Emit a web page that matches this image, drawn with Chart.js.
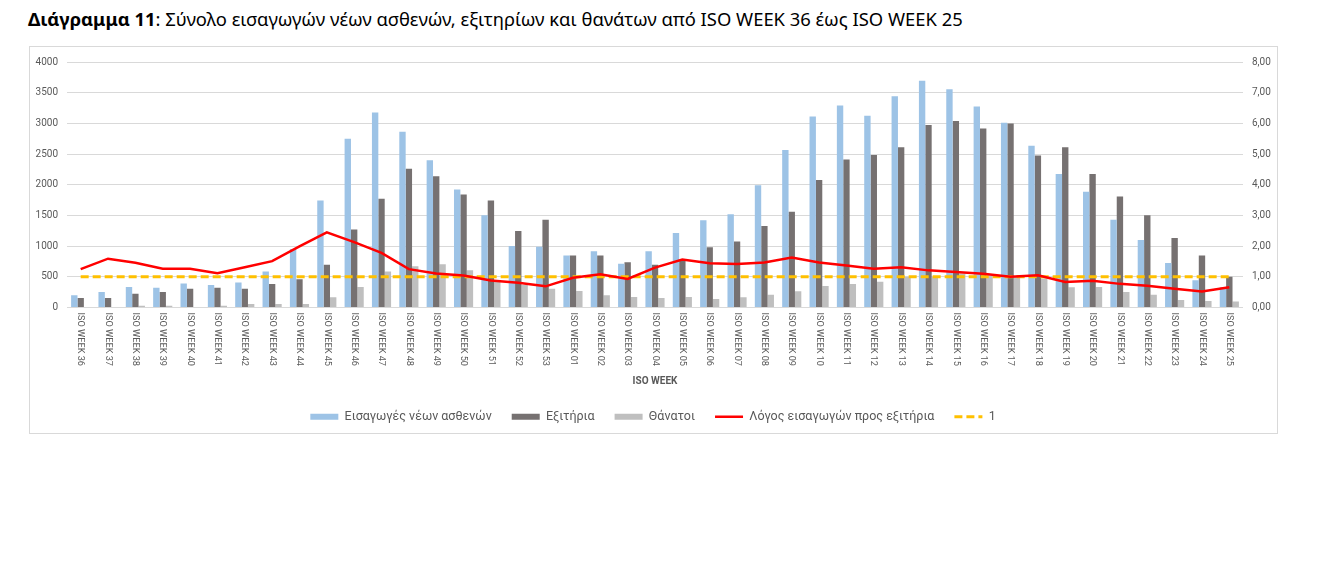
<!DOCTYPE html>
<html>
<head>
<meta charset="utf-8">
<script src="https://cdn.jsdelivr.net/npm/chart.js@4.4.1/dist/chart.umd.min.js"></script>
<style>
  html, body { margin: 0; padding: 0; background: #ffffff; }
  body { width: 1322px; height: 566px; position: relative; overflow: hidden; }
  #title { position: absolute; left: 28px; top: 9px; font-family: "Noto Sans", sans-serif; font-size: 18.4px; line-height: 20px; color: #000; white-space: nowrap; }
  #frame { position: absolute; left: 29px; top: 46px; width: 1249px; height: 388px; border: 1px solid #D9D9D9; box-sizing: border-box; }
  #c { position: absolute; left: 30px; top: 47px; }
</style>
</head>
<body>
<div id="title"><b>Διάγραμμα 11</b>: Σύνολο εισαγωγών νέων ασθενών, εξιτηρίων και θανάτων από ISO WEEK 36 έως ISO WEEK 25</div>
<div id="frame"></div>
<canvas id="c" width="1246" height="400"></canvas>
<script>
const categories = [
  'ISO WEEK 36','ISO WEEK 37','ISO WEEK 38','ISO WEEK 39','ISO WEEK 40','ISO WEEK 41','ISO WEEK 42','ISO WEEK 43','ISO WEEK 44','ISO WEEK 45',
  'ISO WEEK 46','ISO WEEK 47','ISO WEEK 48','ISO WEEK 49','ISO WEEK 50','ISO WEEK 51','ISO WEEK 52','ISO WEEK 53',
  'ISO WEEK 01','ISO WEEK 02','ISO WEEK 03','ISO WEEK 04','ISO WEEK 05','ISO WEEK 06','ISO WEEK 07','ISO WEEK 08','ISO WEEK 09','ISO WEEK 10',
  'ISO WEEK 11','ISO WEEK 12','ISO WEEK 13','ISO WEEK 14','ISO WEEK 15','ISO WEEK 16','ISO WEEK 17','ISO WEEK 18','ISO WEEK 19','ISO WEEK 20',
  'ISO WEEK 21','ISO WEEK 22','ISO WEEK 23','ISO WEEK 24','ISO WEEK 25'
];
const admissions = [
  199, 252, 333, 322, 392, 365, 408, 585, 955, 1745,
  2749, 3178, 2862, 2400, 1922, 1503, 1004, 988,
  848, 918, 714, 918, 1213, 1423, 1519, 1992, 2566, 3114,
  3291, 3125, 3442, 3694, 3554, 3275, 3012, 2636, 2174, 1884,
  1428, 1100, 725, 446, 330
];
const discharges = [
  156, 156, 225, 252, 306, 322, 306, 381, 462, 698,
  1272, 1772, 2260, 2137, 1842, 1745, 1246, 1428,
  848, 848, 736, 698, 760, 983, 1074, 1326, 1562, 2078,
  2411, 2486, 2609, 2974, 3039, 2915, 2996, 2475, 2609, 2174,
  1809, 1503, 1133, 848, 500
];
const deaths = [
  10, 10, 27, 27, 10, 27, 59, 59, 59, 166,
  333, 585, 671, 703, 605, 430, 365, 306,
  269, 199, 170, 156, 170, 140, 166, 209, 263, 349,
  381, 419, 500, 500, 553, 520, 500, 474, 330, 333,
  252, 209, 123, 107, 97
];
const ratio = [
  1.25, 1.59, 1.46, 1.26, 1.26, 1.12, 1.31, 1.51, 1.99, 2.45,
  2.13, 1.78, 1.25, 1.11, 1.04, 0.88, 0.81, 0.69,
  0.97, 1.08, 0.93, 1.30, 1.56, 1.44, 1.42, 1.47, 1.63, 1.47,
  1.37, 1.26, 1.31, 1.21, 1.16, 1.10, 1.00, 1.05, 0.83, 0.87,
  0.77, 0.71, 0.61, 0.52, 0.66
];
const referenceOne = [
  1, 1, 1, 1, 1, 1, 1, 1, 1, 1,
  1, 1, 1, 1, 1, 1, 1, 1,
  1, 1, 1, 1, 1, 1, 1, 1, 1, 1,
  1, 1, 1, 1, 1, 1, 1, 1, 1, 1,
  1, 1, 1, 1, 1
];
const seriesNames = ['Εισαγωγές νέων ασθενών', 'Εξιτήρια', 'Θάνατοι', 'Λόγος εισαγωγών προς εξιτήρια', '1'];
const leftTicks = [0, 500, 1000, 1500, 2000, 2500, 3000, 3500, 4000];
const rightTicks = [0, 1, 2, 3, 4, 5, 6, 7, 8];

const FONT = 'Roboto';
const TXT = '#595959';

const xLabelsPlugin = {
  id: 'xLabels',
  afterDraw(chart) {
    const x = chart.scales.x;
    const ctx = chart.ctx;
    ctx.save();
    ctx.font = '9.2px ' + FONT;
    ctx.fillStyle = TXT;
    ctx.textAlign = 'left';
    ctx.textBaseline = 'middle';
    const y0 = chart.chartArea.bottom + 5;
    categories.forEach((lab, i) => {
      const px = x.getPixelForValue(i);
      ctx.save();
      ctx.translate(px, y0);
      ctx.rotate(Math.PI / 2);
      ctx.fillText(lab, 0, 0);
      ctx.restore();
    });
    ctx.restore();
  }
};

new Chart(document.getElementById('c'), {
  data: {
    labels: categories,
    datasets: [
      { type: 'bar', label: seriesNames[0], data: admissions, backgroundColor: '#9DC3E6', yAxisID: 'y', order: 3, categoryPercentage: 0.7, barPercentage: 1.0 },
      { type: 'bar', label: seriesNames[1], data: discharges, backgroundColor: '#767171', yAxisID: 'y', order: 3, categoryPercentage: 0.7, barPercentage: 1.0 },
      { type: 'bar', label: seriesNames[2], data: deaths, backgroundColor: '#BFBFBF', yAxisID: 'y', order: 3, categoryPercentage: 0.7, barPercentage: 1.0 },
      { type: 'line', label: seriesNames[3], data: ratio, borderColor: '#FF0000', backgroundColor: '#FF0000', borderWidth: 2.5, pointRadius: 0, tension: 0, yAxisID: 'y1', order: 1 },
      { type: 'line', label: seriesNames[4], data: referenceOne, borderColor: '#FFC000', backgroundColor: '#FFC000', borderWidth: 3, borderDash: [8, 4], pointRadius: 0, yAxisID: 'y1', order: 2 }
    ]
  },
  options: {
    responsive: false,
    devicePixelRatio: 1,
    animation: false,
    layout: { padding: { top: 11, left: 0, right: 0, bottom: 14 } },
    plugins: {
      tooltip: { enabled: false },
      legend: {
        position: 'bottom',
        labels: {
          usePointStyle: true,
          pointStyleWidth: 28,
          boxHeight: 6,
          padding: 20,
          color: TXT,
          font: { family: FONT, size: 12.5 },
          generateLabels(chart) {
            return chart.data.datasets.map((ds, i) => {
              const isLine = ds.type === 'line';
              return {
                text: ds.label,
                fillStyle: ds.backgroundColor,
                strokeStyle: isLine ? ds.borderColor : ds.backgroundColor,
                lineWidth: isLine ? ds.borderWidth : 0,
                lineDash: ds.borderDash || [],
                pointStyle: isLine ? 'line' : 'rect',
                hidden: false,
                datasetIndex: i,
                fontColor: TXT
              };
            });
          }
        }
      }
    },
    scales: {
      x: {
        type: 'category',
        offset: true,
        grid: { display: false },
        border: { display: false },
        ticks: { display: false },
        title: { display: true, text: 'ISO WEEK', color: TXT, font: { family: FONT, size: 10, weight: 'bold' }, padding: { top: 0, bottom: 3 } },
        afterFit(s) { s.height = 83; }
      },
      y: {
        position: 'left',
        min: 0, max: 4000,
        afterBuildTicks(s) { s.ticks = leftTicks.map(v => ({ value: v })); },
        ticks: { color: TXT, font: { family: FONT, size: 10 }, padding: 9, callback: v => String(v) },
        grid: { color: '#D9D9D9', drawTicks: false, lineWidth: 1 },
        border: { display: false },
        afterFit(s) { s.width = 37; }
      },
      y1: {
        position: 'right',
        min: 0, max: 8,
        afterBuildTicks(s) { s.ticks = rightTicks.map(v => ({ value: v })); },
        ticks: { color: TXT, font: { family: FONT, size: 10 }, padding: 9, callback: v => v.toFixed(2).replace('.', ',') },
        grid: { display: false, drawTicks: false },
        border: { display: false },
        afterFit(s) { s.width = 33; }
      }
    }
  },
  plugins: [xLabelsPlugin]
});
</script>
</body>
</html>
